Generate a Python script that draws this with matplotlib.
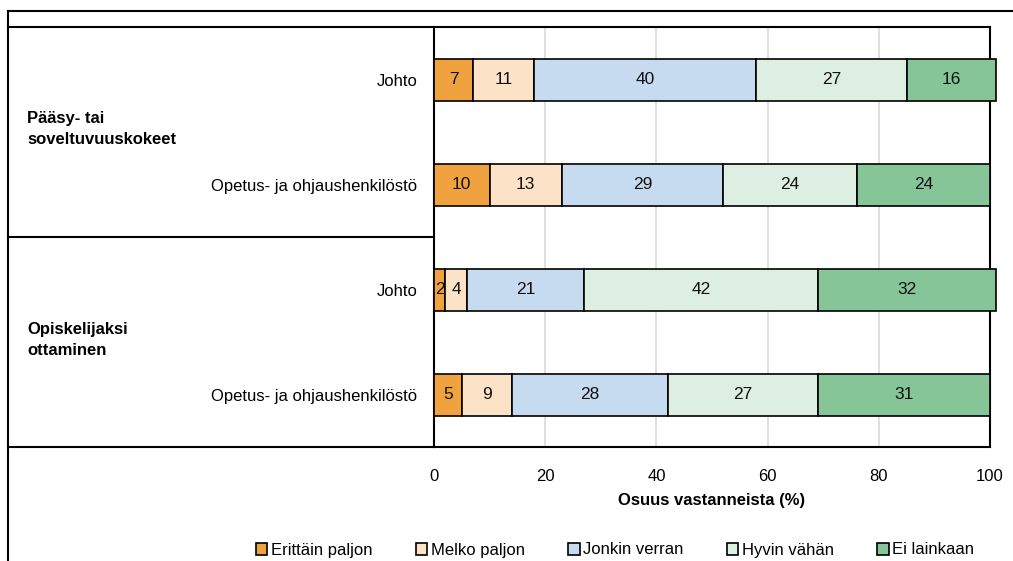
import numpy as np
import matplotlib
matplotlib.use('Agg')
import matplotlib.pyplot as plt
from matplotlib.lines import Line2D
from matplotlib.patches import Patch

plt.rcParams['font.family'] = ['Liberation Sans', 'DejaVu Sans']

# DATA
rows = ['Johto', 'Opetus- ja ohjaushenkilöstö', 'Johto', 'Opetus- ja ohjaushenkilöstö']
groups = ['Pääsy- tai\nsoveltuvuuskokeet', 'Opiskelijaksi\nottaminen']
categories = ['Erittäin paljon', 'Melko paljon', 'Jonkin verran', 'Hyvin vähän', 'Ei lainkaan']
erittain = [7, 10, 2, 5]
melko = [11, 13, 4, 9]
jonkin = [40, 29, 21, 28]
hyvin = [27, 24, 42, 27]
ei = [16, 24, 32, 31]
xticks = [0, 20, 40, 60, 80, 100]

colors = ['#F0A23E', '#FCE3C8', '#C6DBF0', '#DDEEE2', '#85C597']
series = [erittain, melko, jonkin, hyvin, ei]

fontsize = 12

fig = plt.figure(figsize=(10.13, 5.61), dpi=100)
W, H = 1013.0, 561.0
ax = fig.add_axes([434 / W, 1 - 447 / H, (990 - 434) / W, (447 - 27) / H])

y = np.arange(len(rows))
left = np.zeros(len(rows))
for vals, col, name in zip(series, colors, categories):
    vals = np.array(vals, dtype=float)
    ax.barh(y, vals, left=left, height=0.4, color=col, edgecolor='black',
            linewidth=1.2, label=name, clip_on=False, zorder=3)
    for yi, l, v in zip(y, left, vals):
        ax.text(l + v / 2, yi, '%d' % v, ha='center', va='center',
                fontsize=12.5, color='#111111', zorder=4)
    left += vals

ax.set_xlim(0, 100)
ax.set_ylim(len(rows) - 0.5, -0.5)
ax.set_xticks(xticks)
ax.set_xticklabels([str(t) for t in xticks], fontsize=fontsize)
ax.set_yticks(y)
ax.set_yticklabels(rows, fontsize=fontsize)
ax.tick_params(axis='y', length=0, pad=12)
ax.tick_params(axis='x', length=0, pad=16)
ax.grid(axis='x', color='#D9D9D9', linewidth=1.2, zorder=0)
ax.set_axisbelow(True)
for s in ax.spines.values():
    s.set_linewidth(1.5)
    s.set_color('black')
ax.set_xlabel('Osuus vastanneista (%)', fontsize=fontsize, fontweight='bold', labelpad=6)

# group labels
fig.text(27 / W, 1 - 129 / H, groups[0], fontsize=fontsize, fontweight='bold',
         ha='left', va='center', linespacing=1.55)
fig.text(27 / W, 1 - 340 / H, groups[1], fontsize=fontsize, fontweight='bold',
         ha='left', va='center', linespacing=1.55)

# table-like frame lines
lw = 1.5
for (x0, x1, y0, y1) in [(8, 1013, 11, 11), (8, 8, 11, 561), (8, 434, 27, 27),
                         (8, 434, 237, 237), (8, 434, 447, 447)]:
    fig.add_artist(Line2D([x0 / W, x1 / W], [1 - y0 / H, 1 - y1 / H],
                          transform=fig.transFigure, color='black', linewidth=lw))

handles = [Patch(facecolor=c, edgecolor='black', linewidth=1.2) for c in colors]
fig.legend(handles, categories, loc='center', bbox_to_anchor=(0.607, 1 - 550 / H),
           ncol=5, frameon=False, fontsize=fontsize, handlelength=0.7, handleheight=0.7,
           handletextpad=0.2, columnspacing=2.6)

fig.savefig('out.png', dpi=100)
